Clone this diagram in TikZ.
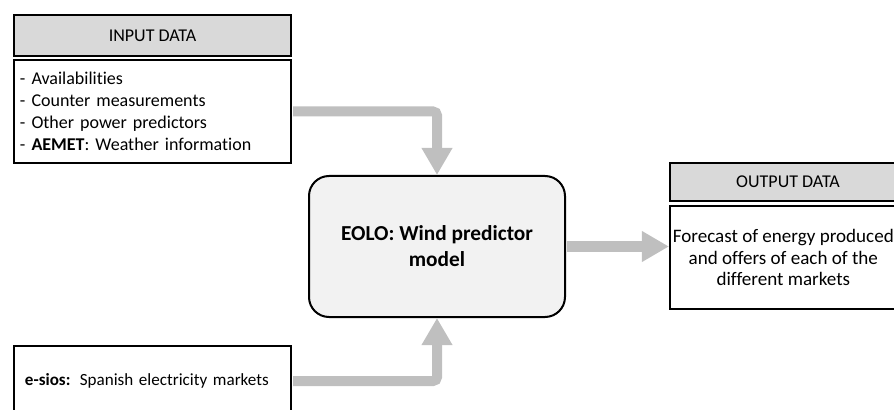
\documentclass[tikz,border=0pt]{standalone}
\usepackage{fontspec}
\setmainfont{Carlito}[Ligatures=CommonOff]
\usetikzlibrary{arrows.meta}
\colorlet{headgray}{black!15}
\colorlet{modelgray}{black!5}
\colorlet{flowgray}{black!25}
\tikzstyle{box}=[draw,line width=1.5pt,inner sep=0pt,font=\fontsize{13.5}{16.5}\selectfont]
\tikzstyle{head box}=[box,fill=headgray]
\tikzstyle{flow}=[line width=7.5pt,flowgray,rounded corners=3pt,shorten <=0.75pt,-{Triangle[width=21.75pt,length=20.25pt]}]

\begin{document}
\begin{tikzpicture}[x=0.75pt,y=-0.75pt]
  \clip (0,0) rectangle (894,410);

  % INPUT DATA
  \node[head box,minimum width=207.75pt,minimum height=30.75pt] (inhead) at (152.5,35.5) {INPUT DATA};
  \node[box,text width=198.75pt,inner xsep=4.5pt,minimum height=77.25pt,align=left] (inbody) at (152.5,111.5)
    {- Availabilities\\- Counter measurements\\- Other power predictors\\- \textbf{AEMET}: Weather information};

  % MODEL
  \node[box,fill=modelgray,rounded corners=15pt,minimum width=192pt,minimum height=105.75pt,align=center,
    font=\bfseries\fontsize{16}{19.5}\selectfont] (model) at (437,246.5) {EOLO: Wind predictor\\model};

  % OUTPUT DATA
  \node[head box,minimum width=177pt,minimum height=28.5pt] (outhead) at (788,182) {OUTPUT DATA};
  \node[box,minimum width=170pt,minimum height=77.25pt,align=center,font=\fontsize{14.3}{16.2}\selectfont] (outbody) at (783.3,257.5)
    {Forecast of energy produced\\and offers of each of the\\different markets};

  % E-SIOS
  \node[box,text width=191.25pt,inner xsep=8.25pt,minimum height=52.5pt,align=left,font=\fontsize{12.8}{16}\selectfont] (esios) at (152.5,381)
    {\mbox{\textbf{e-sios:}\hspace{7pt}Spanish electricity markets}};

  % FLOWS
  \draw[flow] (inbody.east) -| (model.north);
  \draw[flow] (esios.east) -| (model.south);
  \draw[flow] (model.east) -- (model.east -| outbody.west);
\end{tikzpicture}
\end{document}
